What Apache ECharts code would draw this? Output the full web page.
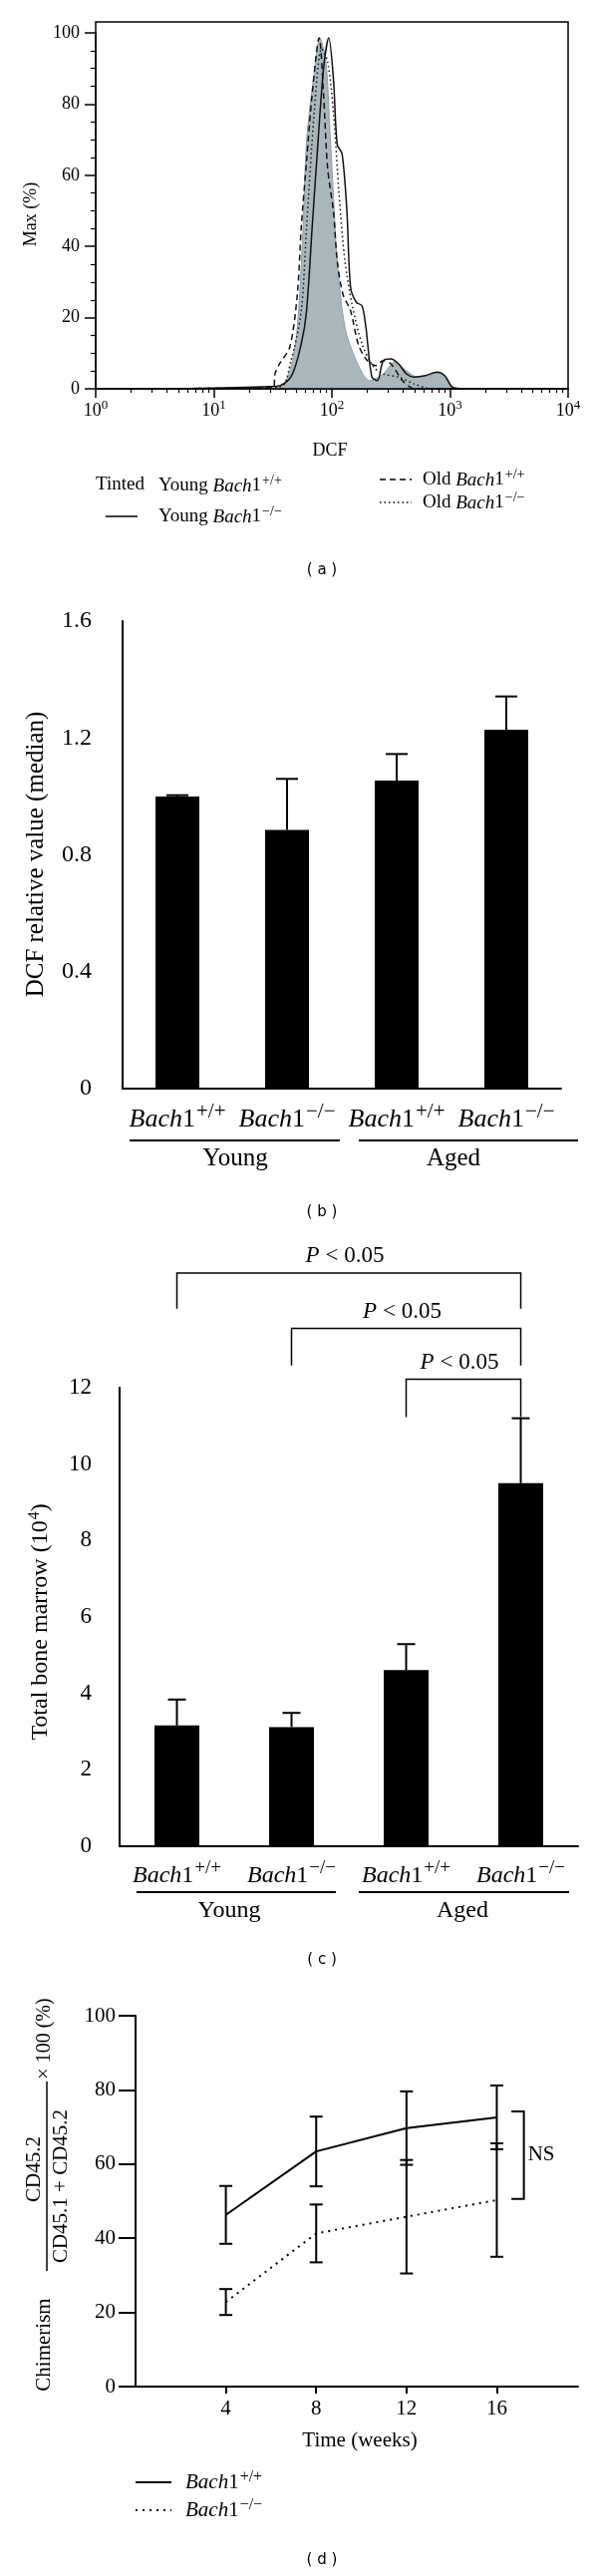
<!DOCTYPE html>
<html>
<head>
<meta charset="utf-8">
<script src="https://cdn.jsdelivr.net/npm/echarts@6/dist/echarts.min.js"></script>
<style>
  html, body { margin: 0; padding: 0; background: #fff; }
  #fig { width: 600px; height: 2584px; }
</style>
</head>
<body>
<div id="fig"></div>
<script>
// (a) DCF histograms, x in DCF units, y in % of max
const youngWtDcf = [1, 30, 39, 45, 51, 57, 61, 71, 79, 89, 96, 103, 111, 129, 161, 209, 272, 340, 427, 533, 668, 805, 935, 1086, 10000];
const youngWtMax = [0, 0, 1.4, 6.1, 17.3, 45.2, 69.5, 89.1, 98.6, 91.9, 73.2, 54.6, 35.9, 17.3, 7.9, 2.3, 4.2, 7.5, 5.1, 3.3, 3.7, 4.7, 3.3, 0, 0];
const youngKoDcf = [1, 34, 45, 55, 61, 68, 76, 85, 94, 103, 111, 122, 134, 144, 161, 180, 194, 218, 243, 272, 316, 367, 427, 495, 619, 776, 901, 1045, 1309, 10000];
const youngKoMax = [0, 0.7, 3.3, 12.6, 21.9, 45.2, 68.6, 90, 98.6, 87.2, 68.6, 66, 49.9, 28.5, 24.3, 23.3, 17.3, 3.3, 2.3, 7.9, 8.4, 7, 4.2, 3.3, 3.7, 4.7, 3.7, 0.5, 0, 0];
const oldWtDcf = [1, 32, 33, 36, 44, 51, 55, 61, 68, 78, 85, 92, 103, 111, 124, 144, 167, 194, 234, 272, 316, 396, 459, 500, 10000];
const oldWtMax = [0, 0.5, 4.2, 7, 11.7, 26.6, 45.2, 63.9, 82.6, 98.6, 82.6, 62, 49.9, 35.9, 26.6, 21.9, 12.6, 8.4, 6.5, 7.9, 7, 2.3, 0.5, 0, 0];
const oldKoDcf = [1, 36, 45, 55, 61, 71, 82, 92, 103, 115, 129, 150, 180, 226, 272, 367, 495, 619, 700, 10000];
const oldKoMax = [0, 0.5, 7.9, 21.9, 45.2, 77.9, 95.6, 91.9, 77.9, 54.6, 35.9, 22.9, 12.6, 6.1, 4.2, 3.3, 1.4, 0.3, 0, 0];

// (b) and (c) bar panels
const genotypes = ['+/+', '\u2212/\u2212', '+/+', '\u2212/\u2212'];
const dcfMedian = [1.0, 0.885, 1.054, 1.228];
const dcfErr = [0.004, 0.175, 0.091, 0.114];
const marrow = [3.16, 3.12, 4.61, 9.5];
const marrowErr = [0.68, 0.37, 0.68, 1.7];
// significance brackets: [from bar, to bar, bracket height, leg bottom]
const brackets = [[0, 3, 15.0, 14.07], [1, 3, 13.55, 12.58], [2, 3, 12.22, 11.23]];

// (d) chimerism time course
const weeks = [4, 8, 12, 16];
const wtChim = [46.3, 63.4, 69.7, 72.6];
const wtErr = [7.8, 9.4, 9.9, 8.6];
const koChim = [22.8, 41.3, 45.8, 50.3];
const koErr = [3.5, 7.8, 15.3, 15.3];
const nsBracket = [16.65, 17.2, 74.2, 50.6];

const SERIF = '"Liberation Serif", "Times New Roman", serif';
const SANS = '"DejaVu Sans", Verdana, sans-serif';
const BLACK = '#000';

function richSet(size, sup) {
  sup = sup || 0.75;
  return {
    i: { fontFamily: SERIF, fontSize: size, fontStyle: 'italic', color: BLACK, verticalAlign: 'bottom' },
    n: { fontFamily: SERIF, fontSize: size, color: BLACK, verticalAlign: 'bottom' },
    s: { fontFamily: SERIF, fontSize: Math.round(size * sup), color: BLACK, verticalAlign: 'bottom',
         padding: [0, 0, Math.round(size * 0.4), 1] }
  };
}

function txt(x, y, text, size, opts) {
  opts = opts || {};
  return {
    type: 'text', x: x, y: y, rotation: opts.rot || 0, z: 10,
    style: {
      text: text, fontFamily: opts.family || SERIF, fontSize: size, fill: BLACK,
      align: opts.align || 'center', verticalAlign: opts.va || 'middle',
      rich: opts.rich
    }
  };
}
function seg(x1, y1, x2, y2, w, dash) {
  return {
    type: 'line', z: 10,
    shape: { x1: x1, y1: y1, x2: x2, y2: y2 },
    style: { stroke: BLACK, lineWidth: w || 1.5, lineDash: dash || null }
  };
}

// error bar renderer (upper only for bars, both for time course)
function errorBars(capHalf, both) {
  return function (params, api) {
    const x = api.value(0), v = api.value(1), e = api.value(2);
    const top = api.coord([x, v + e]);
    const bot = api.coord([x, both ? v - e : v]);
    const st = { stroke: BLACK, lineWidth: 2 };
    const kids = [
      { type: 'line', shape: { x1: top[0], y1: top[1], x2: bot[0], y2: bot[1] }, style: st },
      { type: 'line', shape: { x1: top[0] - capHalf, y1: top[1], x2: top[0] + capHalf, y2: top[1] }, style: st }
    ];
    if (both) {
      kids.push({ type: 'line', shape: { x1: bot[0] - capHalf, y1: bot[1], x2: bot[0] + capHalf, y2: bot[1] }, style: st });
    }
    return { type: 'group', children: kids };
  };
}

function bracketItem(params, api) {
  const a = api.value(0), b = api.value(1), h = api.value(2), leg = api.value(3);
  const p1 = api.coord([a, h]), p2 = api.coord([b, h]);
  const l1 = api.coord([a, leg]), l2 = api.coord([b, leg]);
  return {
    type: 'group',
    children: [
      { type: 'polyline', shape: { points: [l1, p1, p2, l2] }, style: { stroke: BLACK, lineWidth: 1.5, fill: null } },
      { type: 'text', x: (p1[0] + p2[0]) / 2 - 4, y: p1[1] - 17,
        style: { text: '{p|P} < 0.05', fontFamily: SERIF, fontSize: 23, fill: BLACK, align: 'center', verticalAlign: 'middle',
                 rich: { p: { fontFamily: SERIF, fontSize: 23, fontStyle: 'italic', color: BLACK } } } }
    ]
  };
}

function nsItem(params, api) {
  const x1 = api.value(0), x2 = api.value(1), t = api.value(2), b = api.value(3);
  const a = api.coord([x1, t]), c = api.coord([x2, t]), d = api.coord([x2, b]), e = api.coord([x1, b]);
  return {
    type: 'group',
    children: [
      { type: 'polyline', shape: { points: [a, c, d, e] }, style: { stroke: BLACK, lineWidth: 2, fill: null } },
      { type: 'text', x: c[0] + 4, y: (c[1] + d[1]) / 2,
        style: { text: 'NS', fontFamily: SERIF, fontSize: 21, fill: BLACK, align: 'left', verticalAlign: 'middle' } }
    ]
  };
}

const pairs = (xs, ys) => xs.map((x, i) => [x, ys[i]]);
const axisLineStyle = w => ({ show: true, lineStyle: { color: BLACK, width: w } });
const catLabel = size => ({
  margin: 13, interval: 0,
  formatter: v => '{i|Bach}{n|1}{s|' + v + '}',
  rich: richSet(size, 0.8)
});

const option = {
  animation: false,
  backgroundColor: '#fff',
  grid: [
    { left: 96, top: 33, width: 474, height: 357 },
    { left: 123, top: 623, width: 440, height: 469 },
    { left: 120, top: 1392, width: 460, height: 460 },
    { left: 136, top: 2022, width: 444, height: 372 }
  ],
  xAxis: [
    {
      gridIndex: 0, type: 'log', logBase: 10, min: 1, max: 10000,
      axisLine: axisLineStyle(1.5),
      axisTick: { length: 9, lineStyle: { color: BLACK, width: 1.5 } },
      minorTick: { show: true, splitNumber: 9, length: 4, lineStyle: { color: BLACK, width: 1.2 } },
      splitLine: { show: false }, minorSplitLine: { show: false },
      axisLabel: {
        margin: 10,
        formatter: v => '{b|10}{s|' + Math.round(Math.log10(v)) + '}',
        rich: {
          b: { fontFamily: SERIF, fontSize: 18, color: BLACK, verticalAlign: 'bottom' },
          s: { fontFamily: SERIF, fontSize: 13, color: BLACK, verticalAlign: 'bottom', padding: [0, 0, 8, 0] }
        }
      }
    },
    {
      gridIndex: 1, type: 'category', data: genotypes,
      axisLine: axisLineStyle(2), axisTick: { show: false }, splitLine: { show: false },
      axisLabel: catLabel(26)
    },
    {
      gridIndex: 2, type: 'category', data: genotypes,
      axisLine: axisLineStyle(2), axisTick: { show: false }, splitLine: { show: false },
      axisLabel: catLabel(24)
    },
    {
      gridIndex: 3, type: 'value', min: 0, max: 19.6, interval: 4,
      axisLine: axisLineStyle(2),
      axisTick: { customValues: weeks, length: 7, lineStyle: { color: BLACK, width: 2 } },
      axisLabel: { customValues: weeks, margin: 12, fontFamily: SERIF, fontSize: 21, color: BLACK },
      splitLine: { show: false }
    }
  ],
  yAxis: [
    {
      gridIndex: 0, type: 'value', min: 0, max: 100, interval: 20,
      axisLine: axisLineStyle(1.5),
      axisTick: { length: 11, lineStyle: { color: BLACK, width: 1.5 } },
      minorTick: { show: true, splitNumber: 4, length: 5, lineStyle: { color: BLACK, width: 1.2 } },
      splitLine: { show: false }, minorSplitLine: { show: false },
      axisLabel: { margin: 16, fontFamily: SERIF, fontSize: 18, color: BLACK }
    },
    {
      gridIndex: 1, type: 'value', min: 0, max: 1.6, interval: 0.4,
      axisLine: axisLineStyle(2),
      axisTick: { length: 19, lineStyle: { color: BLACK, width: 2 } },
      splitLine: { show: false },
      axisLabel: { margin: 31, fontFamily: SERIF, fontSize: 24, color: BLACK, formatter: v => (v === 0 ? '0' : v.toFixed(1)) }
    },
    {
      gridIndex: 2, type: 'value', min: 0, max: 12, interval: 2,
      axisLine: axisLineStyle(2),
      axisTick: { length: 18, lineStyle: { color: BLACK, width: 2 } },
      splitLine: { show: false },
      axisLabel: { margin: 28, fontFamily: SERIF, fontSize: 23, color: BLACK }
    },
    {
      gridIndex: 3, type: 'value', min: 0, max: 100, interval: 20,
      axisLine: axisLineStyle(2),
      axisTick: { length: 17, lineStyle: { color: BLACK, width: 2 } },
      splitLine: { show: false },
      axisLabel: { margin: 20, fontFamily: SERIF, fontSize: 21, color: BLACK }
    }
  ],
  series: [
    // (a)
    {
      name: 'Young Bach1+/+', type: 'line', xAxisIndex: 0, yAxisIndex: 0,
      data: pairs(youngWtDcf, youngWtMax), smooth: 0.3, showSymbol: false,
      lineStyle: { color: '#8f9fa5', width: 1 }, areaStyle: { color: '#a9b7bc', opacity: 1 }
    },
    {
      name: 'Old Bach1+/+', type: 'line', xAxisIndex: 0, yAxisIndex: 0,
      data: pairs(oldWtDcf, oldWtMax), smooth: 0.3, showSymbol: false,
      lineStyle: { color: '#111', width: 1.5, type: [6, 4] }
    },
    {
      name: 'Old Bach1-/-', type: 'line', xAxisIndex: 0, yAxisIndex: 0,
      data: pairs(oldKoDcf, oldKoMax), smooth: 0.3, showSymbol: false,
      lineStyle: { color: '#111', width: 1.5, type: [1.5, 3] }
    },
    {
      name: 'Young Bach1-/-', type: 'line', xAxisIndex: 0, yAxisIndex: 0,
      data: pairs(youngKoDcf, youngKoMax), smooth: 0.3, showSymbol: false,
      lineStyle: { color: '#111', width: 1.5 }
    },
    // (b)
    {
      type: 'bar', xAxisIndex: 1, yAxisIndex: 1, data: dcfMedian, barWidth: 44,
      itemStyle: { color: BLACK }
    },
    {
      type: 'custom', xAxisIndex: 1, yAxisIndex: 1, clip: false, z: 5,
      data: dcfMedian.map((v, i) => [i, v, dcfErr[i]]),
      renderItem: errorBars(11, false)
    },
    // (c)
    {
      type: 'bar', xAxisIndex: 2, yAxisIndex: 2, data: marrow, barWidth: 45,
      itemStyle: { color: BLACK }
    },
    {
      type: 'custom', xAxisIndex: 2, yAxisIndex: 2, clip: false, z: 5,
      data: marrow.map((v, i) => [i, v, marrowErr[i]]),
      renderItem: errorBars(9, false)
    },
    {
      type: 'custom', xAxisIndex: 2, yAxisIndex: 2, clip: false, z: 5,
      data: brackets, renderItem: bracketItem
    },
    // (d)
    {
      name: 'Bach1+/+', type: 'line', xAxisIndex: 3, yAxisIndex: 3,
      data: pairs(weeks, wtChim), showSymbol: false, lineStyle: { color: BLACK, width: 2 }
    },
    {
      name: 'Bach1-/-', type: 'line', xAxisIndex: 3, yAxisIndex: 3,
      data: pairs(weeks, koChim), showSymbol: false, lineStyle: { color: BLACK, width: 2, type: [2, 5] }
    },
    {
      type: 'custom', xAxisIndex: 3, yAxisIndex: 3, clip: false, z: 5,
      data: weeks.map((w, i) => [w, wtChim[i], wtErr[i]]),
      renderItem: errorBars(6.5, true)
    },
    {
      type: 'custom', xAxisIndex: 3, yAxisIndex: 3, clip: false, z: 5,
      data: weeks.map((w, i) => [w, koChim[i], koErr[i]]),
      renderItem: errorBars(6.5, true)
    },
    {
      type: 'custom', xAxisIndex: 3, yAxisIndex: 3, clip: false, z: 5,
      data: [nsBracket], renderItem: nsItem
    }
  ],
  graphic: [
    // (a) frame, titles and legend
    { type: 'rect', z: 10, shape: { x: 96, y: 22, width: 474, height: 368 }, style: { fill: null, stroke: BLACK, lineWidth: 1.5 } },
    txt(31, 215, 'Max (%)', 18, { rot: Math.PI / 2 }),
    txt(331, 452, 'DCF', 18),
    txt(96, 486, 'Tinted', 19, { align: 'left' }),
    txt(159, 486, '{n|Young }{i|Bach}{n|1}{s|+/+}', 19, { align: 'left', rich: richSet(19) }),
    seg(106, 518, 138, 518, 1.5),
    txt(159, 517, '{n|Young }{i|Bach}{n|1}{s|\u2212/\u2212}', 19, { align: 'left', rich: richSet(19) }),
    seg(381, 481, 413, 481, 1.5, [6, 4]),
    txt(424, 480, '{n|Old }{i|Bach}{n|1}{s|+/+}', 19, { align: 'left', rich: richSet(19) }),
    seg(381, 504, 413, 504, 1.5, [1.5, 3]),
    txt(424, 503, '{n|Old }{i|Bach}{n|1}{s|\u2212/\u2212}', 19, { align: 'left', rich: richSet(19) }),
    txt(323, 572, '( a )', 15, { family: SANS }),
    // (b)
    txt(36, 857, 'DCF relative value (median)', 25, { rot: Math.PI / 2 }),
    seg(130, 1144, 341, 1144, 2),
    seg(360, 1144, 580, 1144, 2),
    txt(236, 1162, 'Young', 25),
    txt(455, 1162, 'Aged', 25),
    txt(323, 1216, '( b )', 15, { family: SANS }),
    // (c)
    txt(40, 1627, '{n|Total bone marrow (10}{s|4}{n|)}', 24, { rot: Math.PI / 2, rich: richSet(24, 0.66) }),
    seg(137, 1898, 337, 1898, 2),
    seg(360, 1898, 571, 1898, 2),
    txt(230, 1917, 'Young', 24),
    txt(464, 1917, 'Aged', 24),
    txt(323, 1966, '( c )', 15, { family: SANS }),
    // (d)
    txt(44, 2352, 'Chimerism', 21, { rot: Math.PI / 2 }),
    txt(34, 2176, 'CD45.2', 21, { rot: Math.PI / 2 }),
    seg(47, 2088, 47, 2278, 1.5),
    txt(61, 2193, 'CD45.1 + CD45.2', 21, { rot: Math.PI / 2 }),
    txt(45, 2045, '\u00d7 100 (%)', 20, { rot: Math.PI / 2 }),
    txt(361, 2448, 'Time (weeks)', 21),
    seg(136, 2490, 172, 2490, 2),
    txt(186, 2489, '{i|Bach}{n|1}{s|+/+}', 21, { align: 'left', rich: richSet(21) }),
    seg(136, 2518, 172, 2518, 2, [2, 5]),
    txt(186, 2517, '{i|Bach}{n|1}{s|\u2212/\u2212}', 21, { align: 'left', rich: richSet(21) }),
    txt(323, 2568, '( d )', 15, { family: SANS })
  ]
};

const chart = echarts.init(document.getElementById('fig'), null, { renderer: 'canvas' });
chart.setOption(option);
</script>
</body>
</html>
